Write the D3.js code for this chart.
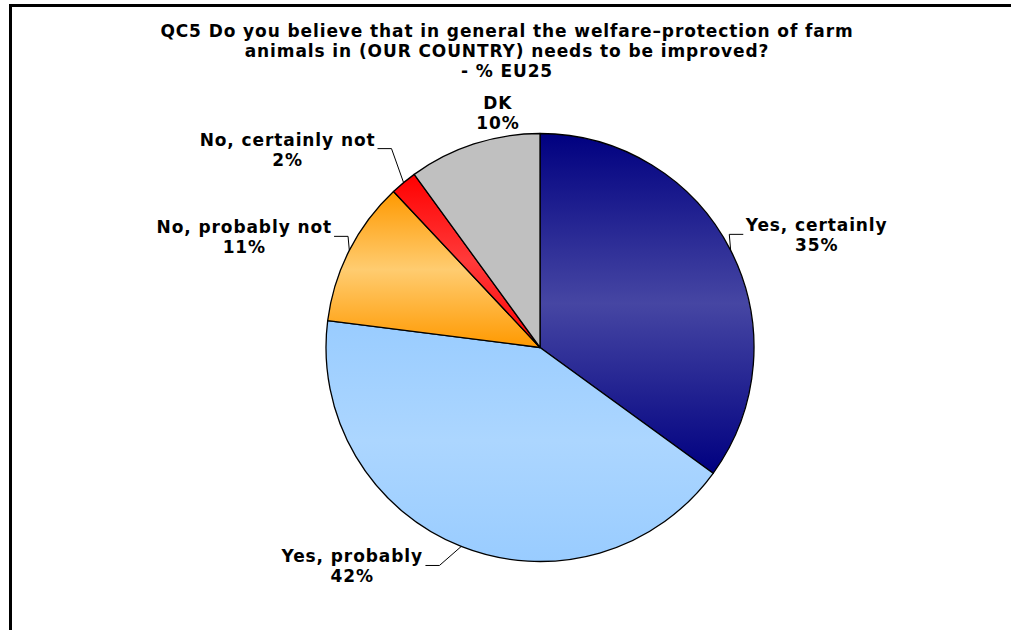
<!DOCTYPE html>
<html>
<head>
<meta charset="utf-8">
<script src="https://cdn.jsdelivr.net/npm/d3@7"></script>
<style>
  html, body { margin: 0; padding: 0; background: #fff; }
  svg { display: block; }
  text { font-family: "DejaVu Sans", Verdana, sans-serif; font-weight: bold; fill: #000; letter-spacing: 0.9px; }
</style>
</head>
<body>
<svg id="chart" width="1011" height="630"></svg>
<script>
// ---- data ----
const titleLines = ["QC5 Do you believe that in general the welfare\u2013protection of farm",
                    "animals in (OUR COUNTRY) needs to be improved?",
                    "- % EU25"];
const categories = ["Yes, certainly", "Yes, probably", "No, probably not", "No, certainly not", "DK"];
const values = [35, 42, 11, 2, 10];
const edgeColors = ["#000080", "#99ccff", "#ff9900", "#ff0000", "#c0c0c0"];
const midColors  = ["#4646a3", "#acd6ff", "#ffcc70", "#ff3a3a", "#c0c0c0"];

// ---- layout ----
const W = 1011, H = 630;
const cx = 540, cy = 347.5, R = 214;
const labelOffsets = [[86, -25], [-109, 10], [-105, -23], [-116, -43], [24, -41]];
const hasLeader = [true, true, true, true, false];
const fontSize = 17;

const svg = d3.select("#chart");

// border (left and top lines)
svg.append("line").attr("x1", 10.5).attr("y1", 4).attr("x2", 10.5).attr("y2", H)
  .attr("stroke", "#000").attr("stroke-width", 3);
svg.append("line").attr("x1", 9).attr("y1", 5.5).attr("x2", W).attr("y2", 5.5)
  .attr("stroke", "#000").attr("stroke-width", 3);

// title
const title = svg.append("text").attr("text-anchor", "middle").style("font-size", fontSize + "px");
titleLines.forEach((t, i) => {
  title.append("tspan").attr("x", 507).attr("y", 37 + i * 20).text(t);
});

// gradients
const defs = svg.append("defs");
categories.forEach((c, i) => {
  const g = defs.append("linearGradient").attr("id", "grad" + i)
    .attr("x1", 0).attr("y1", 0).attr("x2", 0).attr("y2", 1);
  g.append("stop").attr("offset", "0%").attr("stop-color", edgeColors[i]);
  g.append("stop").attr("offset", "50%").attr("stop-color", midColors[i]);
  g.append("stop").attr("offset", "100%").attr("stop-color", edgeColors[i]);
});

const pie = d3.pie().sort(null).value(d => d)(values);
const arc = d3.arc().innerRadius(0).outerRadius(R);

const g = svg.append("g").attr("transform", `translate(${cx},${cy})`);
g.selectAll("path").data(pie).join("path")
  .attr("d", arc)
  .attr("fill", (d, i) => `url(#grad${i})`)
  .attr("stroke", "#000")
  .attr("stroke-width", 1.3)
  .attr("stroke-linejoin", "round");

// labels and leader lines
const edgePt = d => {
  const a = (d.startAngle + d.endAngle) / 2;
  return [cx + R * Math.sin(a), cy - R * Math.cos(a)];
};

pie.forEach((d, i) => {
  const [ex, ey] = edgePt(d);
  const lx = ex + labelOffsets[i][0];
  const ly = ey + labelOffsets[i][1];
  const t = svg.append("text").attr("text-anchor", "middle").style("font-size", fontSize + "px");
  t.append("tspan").attr("x", lx).attr("y", ly + 6).text(categories[i]);
  t.append("tspan").attr("x", lx).attr("y", ly + 26).text(values[i] + "%");
  if (hasLeader[i]) {
    const bb = t.node().getBBox();
    const hy = ly + 9;
    const right = ex > lx;
    const sx = right ? lx + bb.width / 2 + 2 : lx - bb.width / 2 - 2;
    const elbowX = right ? sx + 14 : sx - 14;
    svg.append("polyline")
      .attr("points", [[sx, hy], [elbowX, hy], [ex, ey]].map(p => p.join(",")).join(" "))
      .attr("fill", "none").attr("stroke", "#000").attr("stroke-width", 1);
  }
});
</script>
</body>
</html>
